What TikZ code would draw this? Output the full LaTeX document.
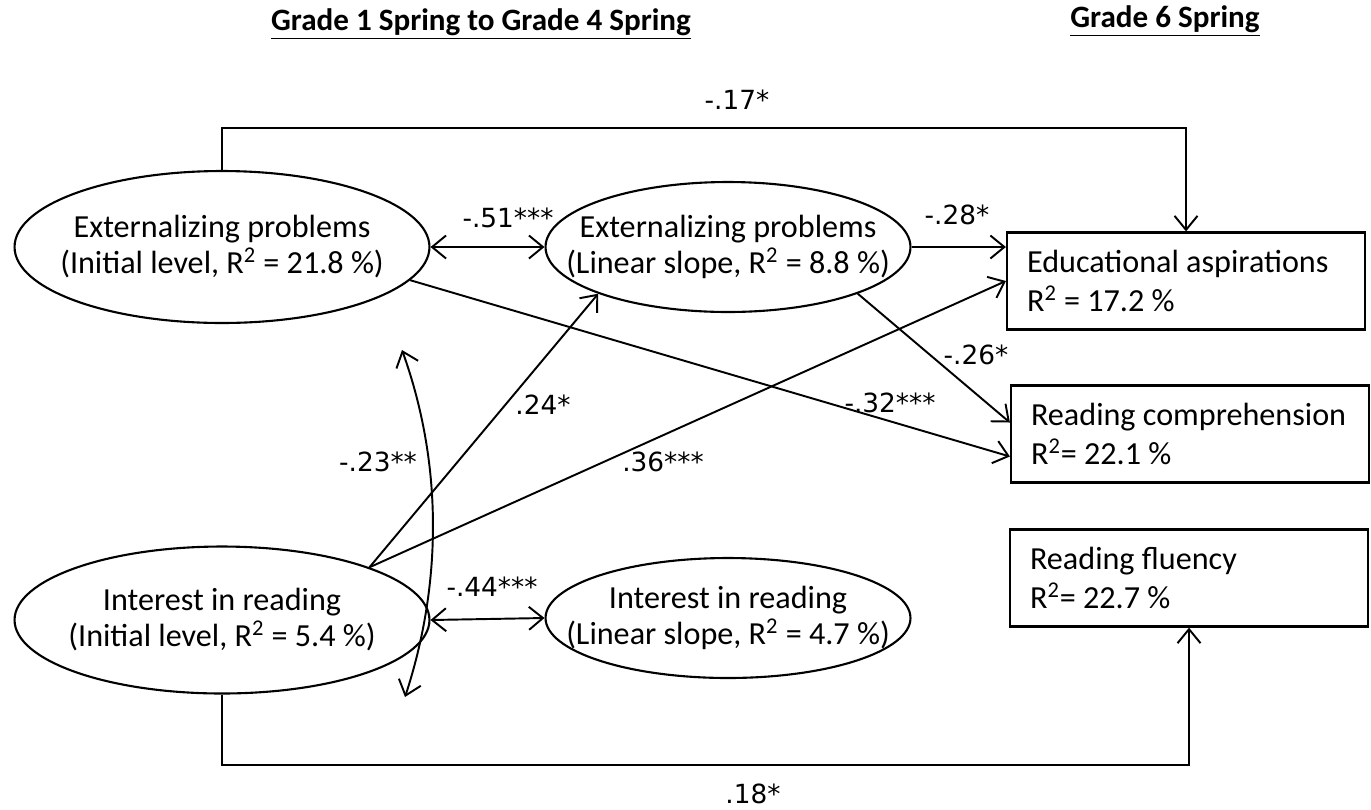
\documentclass[tikz,border=0pt]{standalone}
\usepackage{fontspec}
\setmainfont{Carlito}
\newfontfamily\labelfont{DejaVu Sans}
\usepackage{tikz}
\usetikzlibrary{arrows.meta,shapes.geometric}
\tikzset{>={Straight Barb[length=2.8mm,width=4.6mm]}}

\begin{document}
\begin{tikzpicture}[x=0.02cm, y=-0.02cm,
  latent/.style={draw, ellipse, line width=1.2pt, inner xsep=-0.8cm, inner ysep=0pt,
                 align=center, font=\fontsize{18.3}{20.5}\selectfont},
  outcome/.style={draw, rectangle, line width=1.3pt, minimum height=1.94cm,
                  text width=6.36cm, inner xsep=0.4cm, align=flush left,
                  font=\fontsize{18.3}{22}\selectfont},
  coef/.style={font=\labelfont\fontsize{15}{18}\selectfont},
  path/.style={->, line width=1.1pt}]
  \useasboundingbox (0,0) rectangle (1371,809);

  % Headings
  \node[font=\bfseries\fontsize{17.7}{20}\selectfont] (head1) at (481,24)
       {\underline{Grade 1 Spring to Grade 4 Spring}};
  \node[font=\bfseries\fontsize{17.7}{20}\selectfont] (head2) at (1165,21)
       {\underline{Grade 6 Spring}};

  % Latent growth factors
  \node[latent,minimum width=8.3cm,minimum height=3.04cm] (epi) at (222,247)
       {Externalizing problems\\(Initial level, R\textsuperscript{2} = 21.8 \%)};
  \node[latent,minimum width=7.3cm,minimum height=2.6cm] (eps) at (728,247)
       {Externalizing problems\\(Linear slope, R\textsuperscript{2} = 8.8 \%)};
  \node[latent,minimum width=8.3cm,minimum height=2.94cm] (iri) at (222,620)
       {Interest in reading\\(Initial level, R\textsuperscript{2} = 5.4 \%)};
  \node[latent,minimum width=7.3cm,minimum height=2.4cm] (irs) at (728,618)
       {Interest in reading\\(Linear slope, R\textsuperscript{2} = 4.7 \%)};

  % Grade 6 outcomes
  \node[outcome] (edu) at (1186,281)
       {Educational aspirations\\R\textsuperscript{2} = 17.2 \%};
  \node[outcome] (com) at (1190,434)
       {Reading comprehension\\R\textsuperscript{2}= 22.1 \%};
  \node[outcome] (flu) at (1189,578)
       {Reading fluency\\R\textsuperscript{2}= 22.7 \%};

  % Helper points
  \coordinate (top) at (0,128);
  \coordinate (bot) at (0,765);
  \coordinate (c23a) at (402,350);
  \coordinate (c23b) at (405,697);

  % Paths
  \draw[path] (epi.north) |- (top -| edu.north) -- (edu.north);
  \draw[path] (iri.south) |- (bot -| flu.south) -- (flu.south);
  \draw[path,<->] (epi.east) -- (eps.west);
  \draw[path,<->] (iri.east) -- (irs.west);
  \draw[path] (eps.east) -- (eps.east -| edu.west);
  \draw[path] (eps.south east) -- ([yshift=0.23cm]com.west);
  \draw[path] (epi.-10) -- ([yshift=-0.45cm]com.west);
  \draw[path] (iri.north east) -- (eps.south west);
  \draw[path] (iri.north east) -- (edu.west);
  \draw[path,<->] (c23a) .. controls (445,470) and (440,590) .. (c23b);

  % Coefficients
  \node[coef] (k17) at (737,100) {-.17*};
  \node[coef] (k51) at (508,218) {-.51***};
  \node[coef] (k28) at (957,215) {-.28*};
  \node[coef] (k26) at (976,355) {-.26*};
  \node[coef] (k32) at (890,403) {-.32***};
  \node[coef] (k24) at (543,405) {.24*};
  \node[coef] (k23) at (378,462) {-.23**};
  \node[coef] (k36) at (663,462) {.36***};
  \node[coef] (k44) at (492,587) {-.44***};
  \node[coef] (k18) at (753,794) {.18*};
\end{tikzpicture}
\end{document}
